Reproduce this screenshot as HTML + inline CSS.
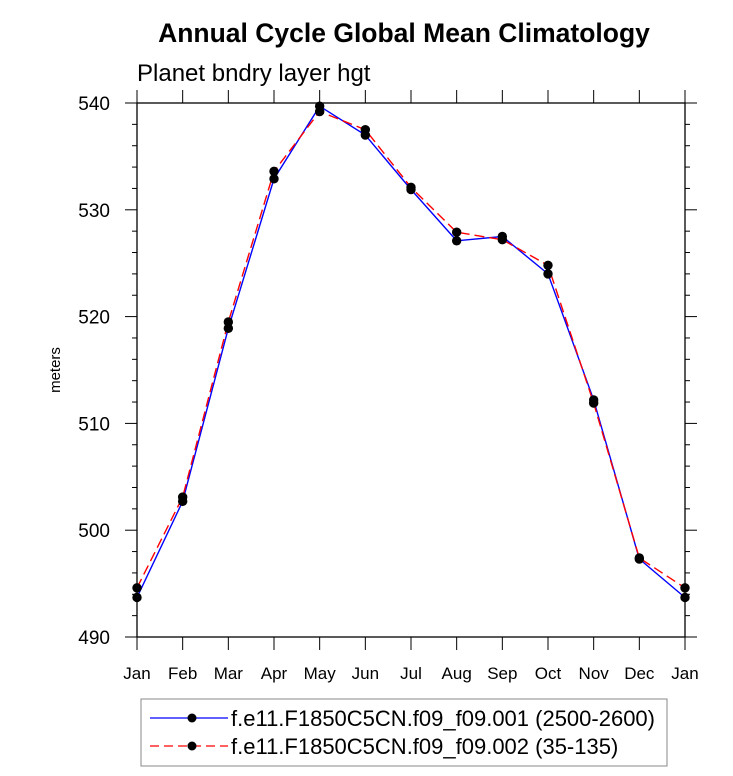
<!DOCTYPE html>
<html><head><meta charset="utf-8"><style>
body{margin:0;background:#fff;}
svg{display:block;font-family:"Liberation Sans",sans-serif;}
</style></head><body>
<svg id="chart" width="733" height="776" xmlns="http://www.w3.org/2000/svg">
<text x="404" y="42" text-anchor="middle" font-size="26.5" font-weight="bold">Annual Cycle Global Mean Climatology</text>
<text x="137" y="81" font-size="24">Planet bndry layer hgt</text>
<text transform="translate(60,370) rotate(-90)" text-anchor="middle" font-size="15">meters</text>
<g id="axes"></g>
<g id="series"></g>
<g>
<rect x="141" y="699" width="526" height="67" fill="none" stroke="#888" stroke-width="1"/>
<g>
<line x1="150" y1="718" x2="228" y2="718" stroke="#00f" stroke-width="1.3"/>
<circle cx="192" cy="718" r="4.5" fill="#000"/>
<text x="231" y="726" font-size="22">f.e11.F1850C5CN.f09_f09.001 (2500-2600)</text>
</g>
<g>
<line x1="150" y1="746" x2="228" y2="746" stroke="#f00" stroke-width="1.3" stroke-dasharray="9,5"/>
<circle cx="192" cy="746" r="4.5" fill="#000"/>
<text x="231" y="754" font-size="22">f.e11.F1850C5CN.f09_f09.002 (35-135)</text>
</g>
</g>
</svg>
<script>
const months = ["Jan","Feb","Mar","Apr","May","Jun","Jul","Aug","Sep","Oct","Nov","Dec","Jan"];
const series001 = [493.7,502.7,518.9,532.9,539.7,537.0,531.9,527.1,527.5,524.0,512.2,497.3,493.7];
const series002 = [494.6,503.1,519.5,533.6,539.2,537.5,532.1,527.9,527.2,524.8,511.9,497.4,494.6];
const yTicks = [490,500,510,520,530,540];

const NS="http://www.w3.org/2000/svg";
const L=137,R=685,T=103,B=637,yMin=490,yMax=540;
function xs(i){return L+(R-L)*i/(months.length-1);}
function ys(v){return B-(v-yMin)/(yMax-yMin)*(B-T);}
function mk(tag,attrs,parent){const e=document.createElementNS(NS,tag);for(const k in attrs)e.setAttribute(k,attrs[k]);parent.appendChild(e);return e;}
const ax=document.getElementById('axes');
const frame=mk('rect',{x:L,y:T,width:R-L,height:B-T,fill:'none',stroke:'#000','stroke-width':1.3},ax);


for(let v=yMin;v<=yMax;v+=2){
  const y=ys(v);const major=(v%10===0);const len=major?12:5;
  const t1=mk('line',{x1:L-len,y1:y,x2:L,y2:y,stroke:'#000','stroke-width':1},ax);
  
  
  const t2=mk('line',{x1:R,y1:y,x2:R+len,y2:y,stroke:'#000','stroke-width':1},ax);
  
  
}
yTicks.forEach(v=>{
  const t=mk('text',{x:110,y:ys(v)+7,'text-anchor':'end','font-size':19},ax);
  t.textContent=v;
  
  
});
months.forEach((m,i)=>{
  const x=xs(i);
  const a=mk('line',{x1:x,y1:B,x2:x,y2:B+13,stroke:'#000','stroke-width':1},ax);
  
  
  const b=mk('line',{x1:x,y1:T-13,x2:x,y2:T,stroke:'#000','stroke-width':1},ax);
  
  
  const t=mk('text',{x:x,y:B+42,'text-anchor':'middle','font-size':17},ax);
  t.textContent=m;
  
  
});
const sg=document.getElementById('series');
function draw(vals,color,dash,name){
  const pts=vals.map((v,i)=>xs(i)+','+ys(v)).join(' ');
  const p=mk('polyline',{points:pts,fill:'none',stroke:color,'stroke-width':1.4},sg);
  if(dash)p.setAttribute('stroke-dasharray',dash);
  
  
}
function dots(vals,name){
  vals.forEach((v,i)=>{
    const c=mk('circle',{cx:xs(i),cy:ys(v),r:4.7,fill:'#000'},sg);
    
    
  });
}
draw(series001,'#00f',null,'series-001');
draw(series002,'#f00','10,5','series-002');
dots(series001,'series-001');
dots(series002,'series-002');
</script>
</body></html>
